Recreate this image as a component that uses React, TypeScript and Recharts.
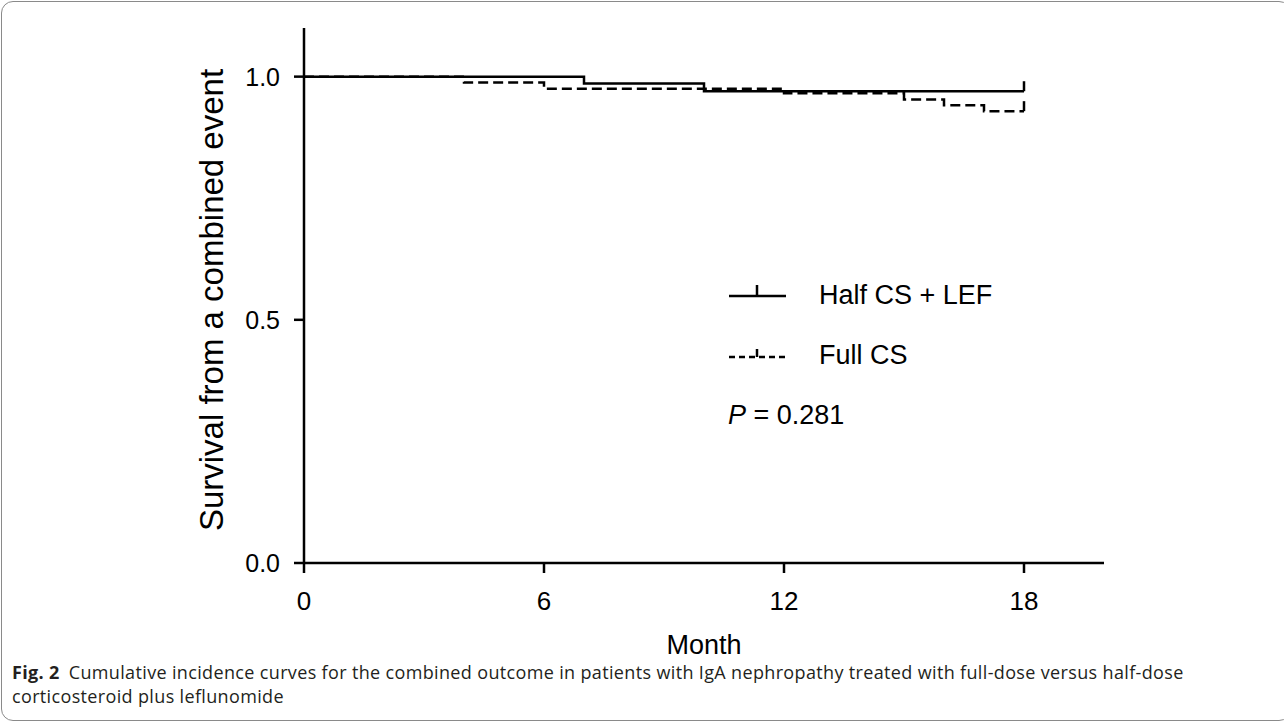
import { LineChart, Line, XAxis, YAxis } from "recharts";

// Kaplan-Meier style step data
const halfMonths = [0, 7, 10, 18];
const halfSurvival = [1.0, 0.986, 0.97, 0.97];
const halfCensored = [false, false, false, true];

const fullMonths = [0, 4, 6, 12, 15, 16, 17, 18];
const fullSurvival = [1.0, 0.988, 0.975, 0.966, 0.953, 0.941, 0.929, 0.929];
const fullCensored = [false, false, false, false, false, false, false, true];

const xTicks = [0, 6, 12, 18];
const yTicks = [0, 0.5, 1.0];
const seriesNames = ["Half CS + LEF", "Full CS"];

const halfData = halfMonths.map((m, i) => ({ month: m, surv: halfSurvival[i], censored: halfCensored[i] }));
const fullData = fullMonths.map((m, i) => ({ month: m, surv: fullSurvival[i], censored: fullCensored[i] }));

const FONT = "'Liberation Sans', Arial, sans-serif";

function censorDot(props: any) {
    const { cx, cy, payload, index } = props;
    if (!payload || !payload.censored) return <g key={"d" + index} />;
    return (
        <line
            key={"d" + index}
            x1={cx}
            x2={cx}
            y1={cy}
            y2={cy - 10}
            stroke="#000"
            strokeWidth={2.5}
        />
    );
}

const captionStyle = {
    position: "absolute" as const,
    left: 12,
    fontFamily: "'Open Sans', sans-serif",
    fontSize: 18,
    letterSpacing: 0.35,
    lineHeight: "16px",
    color: "#231f20",
    whiteSpace: "nowrap" as const,
};

function App() {
    return (
        <div
            style={{
                position: "absolute",
                left: 0,
                top: 0,
                width: 1284,
                height: 724,
                background: "#fff",
                overflow: "hidden",
            }}
        >
            <div
                style={{
                    position: "absolute",
                    left: 1,
                    top: 1,
                    width: 1290,
                    height: 720,
                    border: "1.5px solid #8a8a8a",
                    borderRadius: 12,
                    boxSizing: "border-box",
                }}
            />
            <div style={{ position: "absolute", left: 0, top: 0 }}>
                <LineChart
                    width={1284}
                    height={724}
                    margin={{ top: 28, right: 180, left: 244, bottom: 111 }}
                >
                    <XAxis
                        type="number"
                        dataKey="month"
                        domain={[0, 20]}
                        ticks={xTicks}
                        height={50}
                        tickSize={10}
                        tickMargin={19}
                        axisLine={{ stroke: "#000", strokeWidth: 2.5 }}
                        tickLine={{ stroke: "#000", strokeWidth: 2.5 }}
                        tick={{ fill: "#000", fontSize: 26, fontFamily: FONT }}
                        label={{
                            content: () => (
                                <text
                                    x={704}
                                    y={654}
                                    textAnchor="middle"
                                    fontSize={27}
                                    fontFamily={FONT}
                                    fill="#000"
                                >
                                    Month
                                </text>
                            ),
                        }}
                    />
                    <YAxis
                        type="number"
                        domain={[0, 1.1]}
                        ticks={yTicks}
                        width={60}
                        tickSize={10}
                        tickMargin={14}
                        tickFormatter={(v: number) => v.toFixed(1)}
                        axisLine={{ stroke: "#000", strokeWidth: 2.5 }}
                        tickLine={{ stroke: "#000", strokeWidth: 2.5 }}
                        tick={{ fill: "#000", fontSize: 25, fontFamily: FONT }}
                        label={{
                            content: () => (
                                <text
                                    x={223}
                                    y={300}
                                    transform="rotate(-90 223 300)"
                                    textAnchor="middle"
                                    fontSize={33}
                                    fontFamily={FONT}
                                    fill="#000"
                                >
                                    Survival from a combined event
                                </text>
                            ),
                        }}
                    />
                    <Line
                        data={fullData}
                        dataKey="surv"
                        type="stepAfter"
                        stroke="#000"
                        strokeWidth={2.5}
                        strokeDasharray="10 5"
                        dot={censorDot}
                        activeDot={false}
                        isAnimationActive={false}
                    />
                    <Line
                        data={halfData}
                        dataKey="surv"
                        type="stepAfter"
                        stroke="#000"
                        strokeWidth={2.5}
                        dot={censorDot}
                        activeDot={false}
                        isAnimationActive={false}
                    />
                </LineChart>
            </div>

            {/* legend */}
            <div style={{ position: "absolute", left: 728, top: 280, fontFamily: FONT, fontSize: 27, color: "#000" }}>
                <div style={{ position: "relative", height: 60 }}>
                    <svg width={60} height={30} style={{ position: "absolute", left: 0, top: 0 }}>
                        <line x1={1} x2={58} y1={16} y2={16} stroke="#000" strokeWidth={2.5} />
                        <line x1={29} x2={29} y1={16} y2={5} stroke="#000" strokeWidth={2.5} />
                    </svg>
                    <span style={{ position: "absolute", left: 91, top: 0, lineHeight: "30px", whiteSpace: "nowrap" }}>
                        {seriesNames[0]}
                    </span>
                </div>
                <div style={{ position: "relative", height: 60 }}>
                    <svg width={60} height={30} style={{ position: "absolute", left: 0, top: 0 }}>
                        <line x1={1} x2={58} y1={17} y2={17} stroke="#000" strokeWidth={2.5} strokeDasharray="6 4" />
                        <line x1={29} x2={29} y1={17} y2={9} stroke="#000" strokeWidth={2.5} />
                    </svg>
                    <span style={{ position: "absolute", left: 91, top: 0, lineHeight: "30px", whiteSpace: "nowrap" }}>
                        {seriesNames[1]}
                    </span>
                </div>
                <div style={{ position: "relative", height: 40 }}>
                    <span style={{ position: "absolute", left: 0, top: 0, lineHeight: "30px", whiteSpace: "nowrap" }}>
                        <i>P</i> = 0.281
                    </span>
                </div>
            </div>

            {/* caption */}
            <div style={{ ...captionStyle, top: 664 }}>
                <b>Fig. 2</b>
                <span style={{ marginLeft: 9 }}>
                    Cumulative incidence curves for the combined outcome in patients with IgA nephropathy treated with
                    full-dose versus half-dose
                </span>
            </div>
            <div style={{ ...captionStyle, top: 688 }}>corticosteroid plus leflunomide</div>
        </div>
    );
}

export default App;
